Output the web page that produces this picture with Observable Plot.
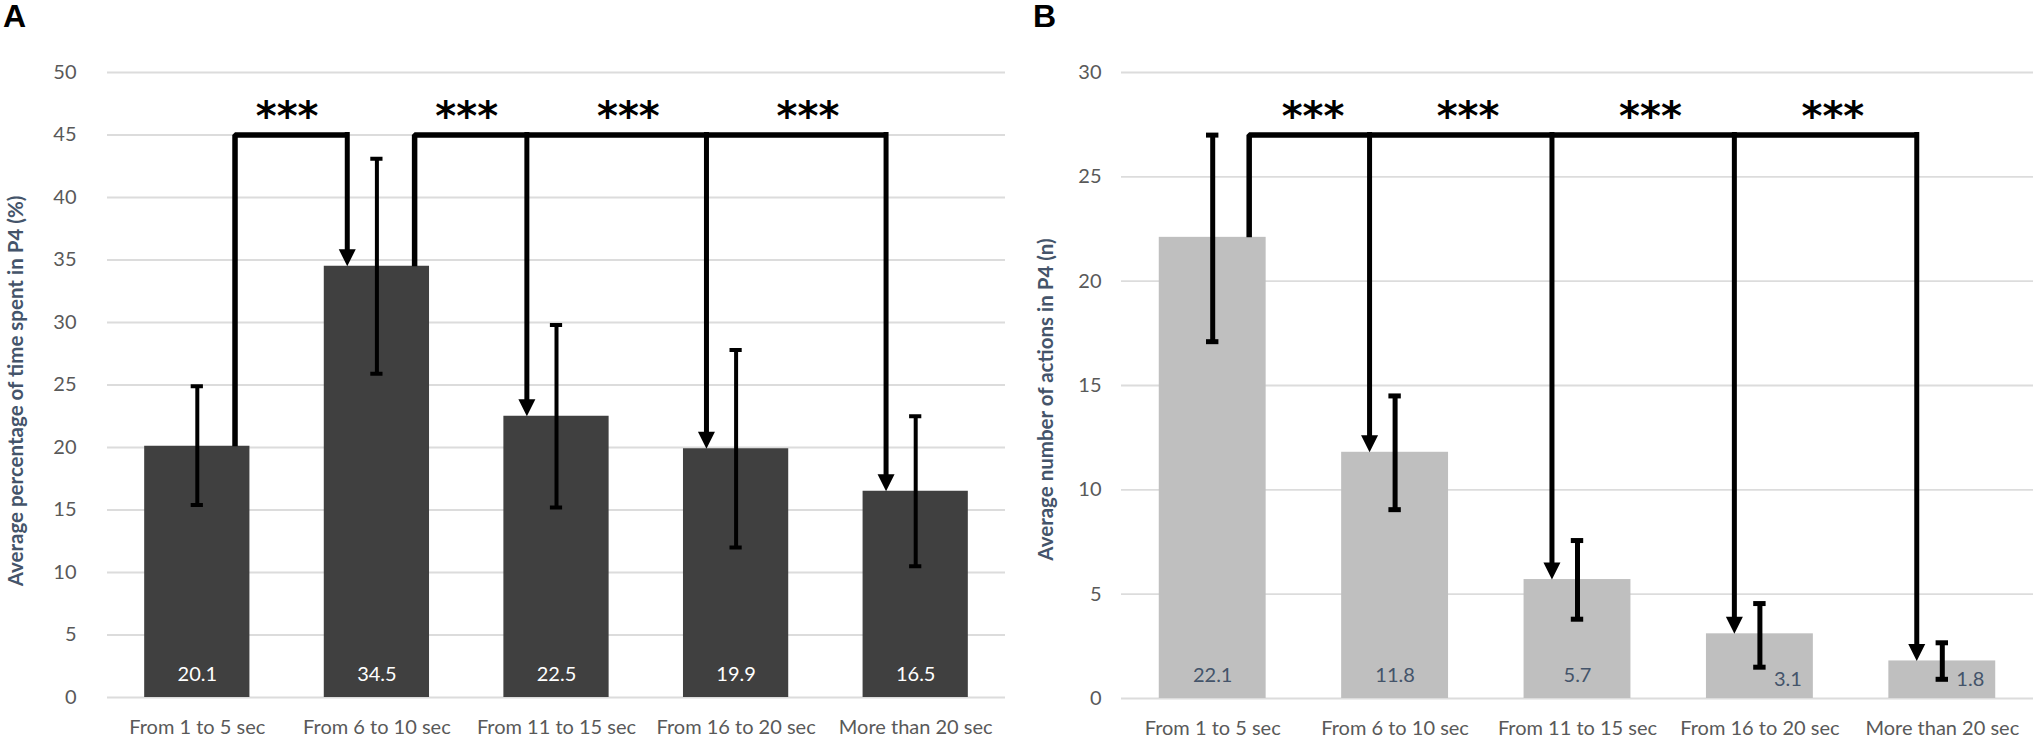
<!DOCTYPE html>
<html><head><meta charset="utf-8">
<script src="https://cdn.jsdelivr.net/npm/d3@7"></script>
<script src="https://cdn.jsdelivr.net/npm/@observablehq/plot@0.6"></script>
<style>
body{margin:0;background:#fff;}
#wrap{position:relative;width:2040px;height:737px;display:flex;}
.letter{position:absolute;top:-2px;font:bold 32px "Liberation Sans",Arial,sans-serif;color:#000;}
</style></head><body>
<div id="wrap"><div class="letter" style="left:3px">A</div><div class="letter" style="left:1033px">B</div></div>
<script>
// ---- data ----
const categories = ["From 1 to 5 sec","From 6 to 10 sec","From 11 to 15 sec","From 16 to 20 sec","More than 20 sec"];
const timeMean = [20.1, 34.5, 22.5, 19.9, 16.5];
const timeLow  = [15.4, 25.9, 15.2, 12.0, 10.5];
const timeHigh = [24.9, 43.1, 29.8, 27.8, 22.5];
const actionsMean = [22.1, 11.8, 5.7, 3.1, 1.8];
const actionsLow  = [17.1, 9.05, 3.8, 1.5, 0.92];
const actionsHigh = [27.0, 14.5, 7.57, 4.55, 2.67];
const yTicksA = [0, 5, 10, 15, 20, 25, 30, 35, 40, 45, 50];
const yTicksB = [0, 5, 10, 15, 20, 25, 30];
const titleA = "Average percentage of time spent in P4 (%)";
const titleB = "Average number of actions in P4 (n)";
// significance brackets: from category (1-based) to categories, at level
const bracketsA = [{from: 1, to: [2], level: 45}, {from: 2, to: [3, 4, 5], level: 45}];
const bracketsB = [{from: 1, to: [2, 3, 4, 5], level: 27}];
// "***" positions along the category axis (1-based)
const starsA = [1.5, 2.5, 3.4, 4.4];
const starsB = [1.55, 2.4, 3.4, 4.4];
const starText = "***";
const shiftedLabelsB = ["From 16 to 20 sec", "More than 20 sec"];

// ---- drawing ----
const arrowHead = {draw(ctx) { ctx.moveTo(-8.5, -17); ctx.lineTo(8.5, -17); ctx.lineTo(0, 0); ctx.closePath(); }};

function panel(o) {
  const rows = categories.map((c, i) => ({i: i + 1, c, m: o.mean[i], lo: o.low[i], hi: o.high[i]}));
  const halfBar = 0.293, capHalf = 0.034;
  const paths = o.brackets.flatMap((b, k) => [
    {k, x: b.from + o.startOff, y: o.mean[b.from - 1]},
    {k, x: b.from + o.startOff, y: b.level},
    {k, x: b.to[b.to.length - 1] + o.arrowOff, y: b.level}
  ]);
  const drops = o.brackets.flatMap(b => b.to.map(t => ({x: t + o.arrowOff, top: b.level, tip: o.mean[t - 1]})));
  const starLevel = o.brackets[0].level;
  const isShifted = d => o.shifted.includes(d.c);
  return Plot.plot({
    width: 1020, height: 737,
    marginTop: 72, marginBottom: o.marginBottom, marginLeft: o.marginLeft, marginRight: o.marginRight,
    style: {fontFamily: "Lato, sans-serif", fontSize: "20px", color: "#595959", background: "white", overflow: "visible"},
    x: {domain: [0.5, 5.5], ticks: [1, 2, 3, 4, 5], tickFormat: d => categories[d - 1], tickSize: 0, tickPadding: 22, label: null},
    y: {domain: [0, o.yMax], ticks: o.yTicks, tickSize: 0, tickPadding: o.tickPad, label: null},
    marks: [
      Plot.ruleY(o.yTicks, {stroke: "#dcdcdc", strokeWidth: 1.8}),
      Plot.rectY(rows, {x1: d => d.i - halfBar, x2: d => d.i + halfBar, y1: 0, y2: "m", fill: o.barFill}),
      Plot.text(rows.filter(d => !isShifted(d)), {x: "i", y: 0, text: d => d.m.toFixed(1), dy: -23, fill: o.labelFill, fontSize: 20}),
      Plot.text(rows.filter(isShifted), {x: "i", y: 0, text: d => d.m.toFixed(1), dx: 28, dy: -19, fill: o.labelFill, fontSize: 20}),
      Plot.ruleX(rows, {x: "i", y1: "lo", y2: "hi", stroke: "black", strokeWidth: o.errWidth}),
      Plot.ruleY(rows, {y: "hi", x1: d => d.i - capHalf, x2: d => d.i + capHalf, stroke: "black", strokeWidth: o.errWidth}),
      Plot.ruleY(rows, {y: "lo", x1: d => d.i - capHalf, x2: d => d.i + capHalf, stroke: "black", strokeWidth: o.errWidth}),
      Plot.line(paths, {x: "x", y: "y", z: "k", stroke: "black", strokeWidth: 5.5, strokeLinejoin: "miter", strokeLinecap: "butt"}),
      Plot.ruleX(drops, {x: "x", y1: "top", y2: "tip", insetBottom: 14, stroke: "black", strokeWidth: 5, strokeLinecap: "square"}),
      Plot.dot(drops, {x: "x", y: "tip", symbol: arrowHead, fill: "black", stroke: "none"}),
      Plot.text(o.stars, {x: d => d, y: () => starLevel, text: () => starText, dy: -18, fontSize: 40, fontWeight: "bold", fontFamily: "DejaVu Sans", fill: "black"}),
      Plot.text([o.title], {frameAnchor: "left", text: d => d, rotate: -90, textAnchor: "middle", dx: o.titleDx, dy: o.titleDy, fontWeight: "bold", fill: "#44546A", fontSize: 20.5})
    ]
  });
}

const wrap = document.getElementById("wrap");
wrap.appendChild(panel({
  mean: timeMean, low: timeLow, high: timeHigh, yMax: 50, yTicks: yTicksA, title: titleA,
  barFill: "#404040", labelFill: "white", errWidth: 4, brackets: bracketsA, stars: starsA,
  startOff: 0.21, arrowOff: -0.165, marginLeft: 107, marginRight: 15, marginBottom: 40, tickPad: 31, titleDx: -91, titleDy: 6, shifted: []
}));
wrap.appendChild(panel({
  mean: actionsMean, low: actionsLow, high: actionsHigh, yMax: 30, yTicks: yTicksB, title: titleB,
  barFill: "#bfbfbf", labelFill: "#44546A", errWidth: 5, brackets: bracketsB, stars: starsB,
  startOff: 0.2, arrowOff: -0.14, marginLeft: 101, marginRight: 7, marginBottom: 39, tickPad: 20, titleDx: -75, titleDy: 14, shifted: shiftedLabelsB
}));
</script>
</body></html>
